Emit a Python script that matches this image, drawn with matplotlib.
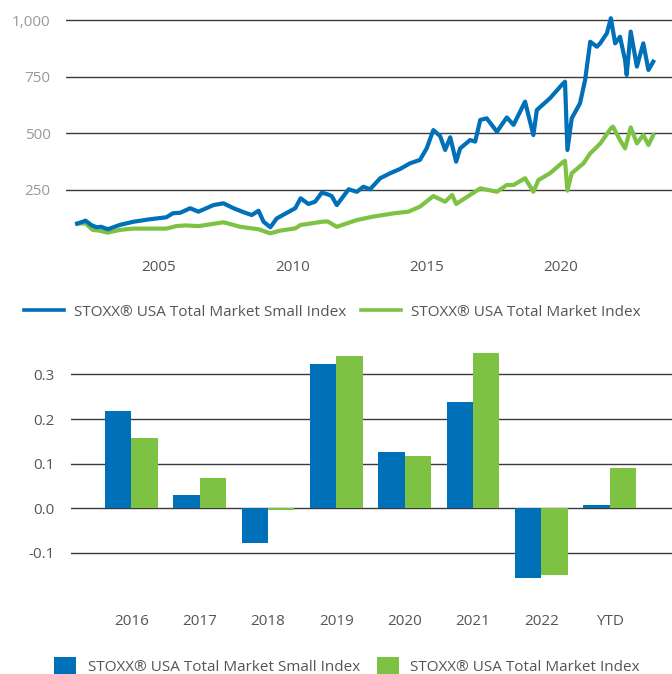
import matplotlib
matplotlib.use("Agg")
import matplotlib.pyplot as plt
import numpy as np

plt.rcParams['font.family'] = ['Open Sans', 'DejaVu Sans']

# Index levels (base 100), decimal years
small_t = [2001.97, 2002.28, 2002.49, 2002.68, 2002.86, 2003.11, 2003.55, 2004.05, 2004.66,
           2005.29, 2005.54, 2005.81, 2006.18, 2006.49, 2007.05, 2007.42, 2007.80, 2008.23,
           2008.48, 2008.73, 2008.92, 2009.17, 2009.41, 2009.79, 2010.10, 2010.30, 2010.59,
           2010.84, 2011.09, 2011.30, 2011.46, 2011.65, 2012.09, 2012.40, 2012.64, 2012.89,
           2013.27, 2013.64, 2014.01, 2014.38, 2014.75, 2015.00, 2015.25, 2015.50, 2015.69,
           2015.88, 2016.10, 2016.25, 2016.62, 2016.81, 2017.00, 2017.24, 2017.62, 2017.99,
           2018.24, 2018.67, 2018.98, 2019.11, 2019.60, 2020.04, 2020.16, 2020.25, 2020.41,
           2020.72, 2020.91, 2021.10, 2021.35, 2021.47, 2021.72, 2021.87, 2022.03, 2022.21,
           2022.40, 2022.46, 2022.61, 2022.84, 2023.08, 2023.27, 2023.45]
small_v = [100, 113, 94, 84, 86, 75, 94, 108, 119,
           128, 146, 148, 168, 153, 182, 190, 168, 148,
           138, 157, 108, 84, 123, 148, 168, 212, 187,
           197, 237, 230, 222, 182, 252, 241, 263, 252,
           301, 323, 342, 367, 382, 433, 514, 488, 426,
           482, 374, 433, 470, 463, 559, 566, 507, 570,
           537, 640, 492, 603, 655, 714, 728, 426, 566,
           633, 736, 905, 883, 898, 942, 1009, 898, 927,
           824, 758, 950, 795, 898, 780, 817]

total_t = [2001.97, 2002.28, 2002.55, 2002.80, 2003.10, 2003.55, 2004.05, 2005.29, 2005.66,
           2005.97, 2006.50, 2007.42, 2008.05, 2008.73, 2009.17, 2009.54, 2010.10, 2010.30,
           2011.09, 2011.30, 2011.65, 2012.40, 2013.00, 2013.80, 2014.32, 2014.75, 2015.25,
           2015.69, 2015.95, 2016.10, 2016.62, 2017.00, 2017.62, 2017.99, 2018.24, 2018.67,
           2018.98, 2019.17, 2019.60, 2020.10, 2020.16, 2020.25, 2020.41, 2020.85, 2021.10,
           2021.48, 2021.87, 2021.95, 2022.21, 2022.40, 2022.61, 2022.84, 2023.08, 2023.27,
           2023.45]
total_v = [100, 101, 72, 69, 60, 72, 78, 78, 89,
           92, 89, 106, 86, 75, 57, 69, 79, 94,
           108, 110, 86, 116, 131, 146, 153, 175, 222,
           197, 227, 187, 227, 256, 241, 271, 271, 301,
           241, 293, 323, 374, 378, 246, 323, 367, 411,
           455, 522, 529, 470, 433, 526, 455, 492, 448,
           492]

# Annual returns
years = ['2016', '2017', '2018', '2019', '2020', '2021', '2022', 'YTD']
ret_small = [0.218, 0.030, -0.077, 0.323, 0.126, 0.238, -0.156, 0.007]
ret_total = [0.158, 0.068, -0.003, 0.341, 0.117, 0.348, -0.149, 0.090]

name_small = 'STOXX® USA Total Market Small Index'
name_total = 'STOXX® USA Total Market Index'
blue = '#0070b8'
green = '#7dc242'
grid_c = '#3a3a3a'

fig = plt.figure(figsize=(6.72, 6.74), dpi=100)

# top: index levels
ax1 = fig.add_axes([0.0982, 0.6347, 0.9018, 0.3419])
ax1.plot(total_t, total_v, color=green, lw=3.0, zorder=3, label=name_total)
ax1.plot(small_t, small_v, color=blue, lw=3.0, zorder=4, label=name_small)
ax1.set_xlim(2001.55, 2024.15)
ax1.set_ylim(0, 1020)
ax1.set_yticks([250, 500, 750, 1000])
ax1.set_yticklabels(['250', '500', '750', '1,000'])
ax1.set_xticks([2005, 2010, 2015, 2020])
ax1.set_xticklabels(['2005', '2010', '2015', '2020'])
ax1.grid(axis='y', color=grid_c, lw=1.0, zorder=1)
ax1.tick_params(axis='y', length=0, pad=11, labelsize=11, labelcolor='#999999')
ax1.tick_params(axis='x', length=0, pad=10, labelsize=11, labelcolor='#555555')
for s in ax1.spines.values():
    s.set_visible(False)

h1, l1 = ax1.get_legend_handles_labels()
leg1 = fig.legend(h1[::-1], l1[::-1], loc='center left', bbox_to_anchor=(24 / 672, 1 - 312 / 674),
                  ncol=2, frameon=False, fontsize=11, handlelength=2.6, handletextpad=0.65,
                  columnspacing=1.0, borderpad=0, borderaxespad=0, labelcolor='#555555')
for ln in leg1.get_lines():
    ln.set_linewidth(2.6)

# bottom: annual returns
ax2 = fig.add_axes([0.1057, 0.1135, 0.8943, 0.3838])
x = np.arange(len(years))
w = 0.386
ax2.bar(x - w / 2, ret_small, w, color=blue, zorder=3, label=name_small)
ax2.bar(x + w / 2, ret_total, w, color=green, zorder=3, label=name_total)
ax2.set_xlim(-0.88, 7.91)
ax2.set_ylim(-0.2, 0.38)
ax2.set_yticks([-0.1, 0.0, 0.1, 0.2, 0.3])
ax2.set_yticklabels(['-0.1', '0.0', '0.1', '0.2', '0.3'])
ax2.set_xticks(x)
ax2.set_xticklabels(years)
ax2.grid(axis='y', color=grid_c, lw=1.0, zorder=1)
ax2.tick_params(axis='y', length=0, pad=12, labelsize=11, labelcolor='#555555')
ax2.tick_params(axis='x', length=0, pad=12, labelsize=11, labelcolor='#555555')
for s in ax2.spines.values():
    s.set_visible(False)

fig.legend(*ax2.get_legend_handles_labels(), loc='center left',
           bbox_to_anchor=(54 / 672, 1 - 666 / 674), ncol=2, frameon=False, fontsize=11,
           handlelength=1.45, handleheight=1.45, handletextpad=0.75, columnspacing=1.1,
           borderpad=0, borderaxespad=0, labelcolor='#555555')

fig.savefig('out.png', dpi=100)
